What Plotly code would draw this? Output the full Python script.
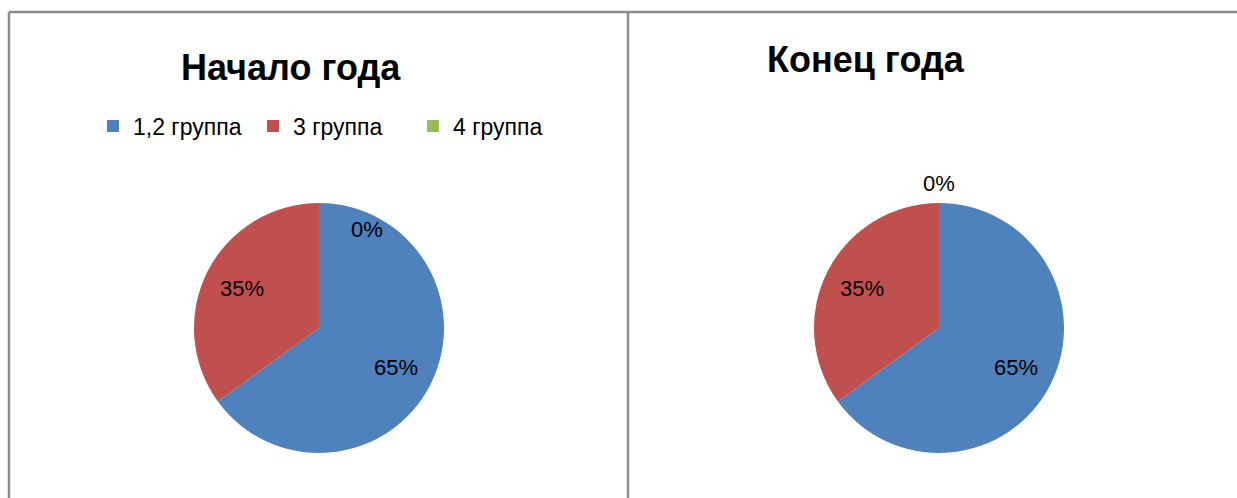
import math
import plotly.graph_objects as go

W, H = 1237, 498

# ---- data ----
categories = ["1,2 группа", "3 группа", "4 группа"]
start_values = [65, 35, 0]
end_values = [65, 35, 0]
chart_titles = ["Начало года", "Конец года"]
colors = ["#4F81BD", "#C0504D", "#9BBB59"]

# ---- layout (pixels) ----
pie_centers = [(319, 328), (939, 328)]
pie_r = 125
# label placement: radius fraction and angle offset (deg) per slice
label_r = [[0.69, 0.69, 0.88], [0.69, 0.69, 1.16]]
label_dang = [[0, 0, 26], [0, 0, 0]]
title_pos = [(291, 67), (866, 60)]
legend_pos = [(93, 126), (713, 126)]
FONT = "Liberation Sans"


def px(x):
    return x / W


def py(y):
    return 1 - y / H


fig = go.Figure()
annotations = []
for i, vals in enumerate([start_values, end_values]):
    cx, cy = pie_centers[i]
    fig.add_trace(go.Pie(
        labels=categories, values=vals, sort=False, direction="clockwise",
        rotation=0, marker=dict(colors=colors, line=dict(width=0)),
        textinfo="none", hoverinfo="label+percent",
        domain=dict(x=[px(cx - pie_r), px(cx + pie_r)],
                    y=[py(cy + pie_r), py(cy - pie_r)]),
        legend="legend" if i == 0 else "legend2",
        showlegend=True,
    ))
    total = sum(vals)
    cum = 0
    for j, v in enumerate(vals):
        mid = (cum + v / 2) / total * 360 + label_dang[i][j]
        cum += v
        rr = label_r[i][j] * pie_r
        lx = cx + rr * math.sin(math.radians(mid))
        ly = cy - rr * math.cos(math.radians(mid))
        annotations.append(dict(
            x=px(lx), y=py(ly), xref="paper", yref="paper", showarrow=False,
            text=f"{round(v / total * 100)}%", xanchor="center", yanchor="middle",
            font=dict(family=FONT, size=22, color="#000000")))
    tx, ty = title_pos[i]
    annotations.append(dict(
        x=px(tx), y=py(ty), xref="paper", yref="paper", showarrow=False,
        text=f"<b>{chart_titles[i]}</b>", xanchor="center", yanchor="middle",
        font=dict(family=FONT, size=36, color="#000000")))

line_col = "#8C8C8C"
shapes = [
    dict(type="line", xref="paper", yref="paper", x0=px(9), x1=px(9), y0=0, y1=py(12),
         line=dict(color=line_col, width=2.5)),
    dict(type="line", xref="paper", yref="paper", x0=px(9), x1=1, y0=py(12), y1=py(12),
         line=dict(color=line_col, width=2.5)),
    dict(type="line", xref="paper", yref="paper", x0=px(628), x1=px(628), y0=0, y1=py(12),
         line=dict(color=line_col, width=2.5)),
]

leg_common = dict(orientation="h", xanchor="left", yanchor="middle",
                  font=dict(family=FONT, size=23, color="#000000"),
                  bgcolor="rgba(0,0,0,0)", entrywidth=115, entrywidthmode="pixels",
                  itemclick=False, itemdoubleclick=False)

fig.update_layout(
    width=W, height=H, margin=dict(l=0, r=0, t=0, b=0),
    paper_bgcolor="white", plot_bgcolor="white",
    annotations=annotations, shapes=shapes,
    legend=dict(x=px(legend_pos[0][0]), y=py(legend_pos[0][1]), **leg_common),
    legend2=dict(x=px(legend_pos[1][0]), y=py(legend_pos[1][1]), **leg_common),
)

fig.write_html("out.html", config={"displayModeBar": False},
               post_script="document.body.style.margin='0';document.body.style.overflow='hidden';")
